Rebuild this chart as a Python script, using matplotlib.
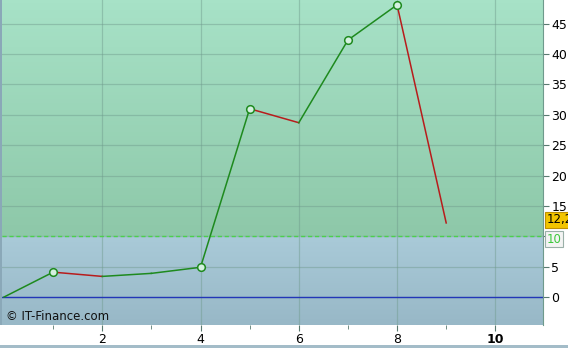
import matplotlib
matplotlib.use("Agg")
import matplotlib.pyplot as plt
import numpy as np
from matplotlib.patches import Rectangle

# data
days = [0, 1, 2, 3, 4, 5, 6, 7, 8, 9]
values = [0.0, 4.1, 3.4, 3.9, 4.9, 31.0, 28.7, 42.3, 48.1, 12.2]
marked = [1, 4, 5, 7, 8]
level = 10
last_label = "12,2"
yticks = [0, 5, 10, 15, 20, 25, 30, 35, 40, 45]
xticks = [2, 4, 6, 8, 10]

fig = plt.figure(figsize=(5.68, 3.48), dpi=100)
fig.patch.set_facecolor("white")
ax = fig.add_axes([2 / 568, 23 / 348, 541 / 568, 325 / 348])

ymin, ymax = -4.6, 48.9
xmin, xmax = -0.04, 10.97
ax.set_xlim(xmin, xmax)
ax.set_ylim(ymin, ymax)

# gradient backgrounds: green above level, blue-grey below
def grad(c_bottom, c_top):
    c0 = np.array(matplotlib.colors.to_rgb(c_bottom))
    c1 = np.array(matplotlib.colors.to_rgb(c_top))
    t = np.linspace(0, 1, 64)[:, None]
    return (c0 + (c1 - c0) * t)[:, None, :]

ax.imshow(grad("#8ec8a9", "#a7e2c7"), extent=[xmin, xmax, level, ymax],
          aspect="auto", origin="lower", zorder=0)
ax.imshow(grad("#98b8c7", "#a9cad8"), extent=[xmin, xmax, ymin, level],
          aspect="auto", origin="lower", zorder=0)

for y in yticks:
    ax.axhline(y, color="#6f9a8c", lw=0.9, alpha=0.45, zorder=1)
for x in xticks:
    ax.axvline(x, color="#6f9a8c", lw=0.9, alpha=0.45, zorder=1)

ax.axhline(0, color="#2236b8", lw=1.0, zorder=2)
ax.axhline(level, color="#4cd04c", lw=1.0, ls=(0, (3, 2)), zorder=2)

# segments coloured by direction
for i in range(len(days) - 1):
    c = "#1e8a1e" if values[i + 1] >= values[i] else "#b81c1c"
    ax.plot(days[i:i + 2], values[i:i + 2], color=c, lw=1.1, zorder=3)
ax.plot([days[i] for i in marked], [values[i] for i in marked], "o",
        ms=5.5, mfc="#d4f0e0", mec="#1e8a1e", mew=1.1, zorder=4)

ax.yaxis.tick_right()
ax.set_yticks(yticks)
# the level value is shown in its own box, so its tick label stays empty
ax.set_yticklabels(["" if v == level else str(v) for v in yticks], fontsize=9)
ax.set_xticks(xticks)
ax.set_xticks([1, 3, 5, 7, 9], minor=True)
ax.set_xticklabels([str(v) for v in xticks], fontsize=9)
ax.get_xticklabels()[-1].set_fontweight("bold")
ax.tick_params(axis="both", which="both", direction="out", length=4,
               color="#5a7a70", pad=2)
ax.tick_params(axis="x", which="minor", length=3)
for s in ["top", "left", "bottom"]:
    ax.spines[s].set_visible(False)
ax.spines["right"].set_color("#6f9a8c")

ax.text(xmax + 0.07, values[-1] + 0.5, last_label, fontsize=8.5, va="center",
        ha="left",
        bbox=dict(boxstyle="square,pad=0.12", fc="#f2c400", ec="#c09000", lw=0.8),
        clip_on=False, zorder=5)
ax.text(xmax + 0.07, level - 0.5, str(level), fontsize=8.5, va="center", ha="left",
        color="#3cc83c",
        bbox=dict(boxstyle="square,pad=0.12", fc="#f4f4f4", ec="#9ab0a8", lw=0.8),
        clip_on=False, zorder=5)

ax.text(0.05, -3.8, "© IT-Finance.com", fontsize=8.5, color="#111111", zorder=5)

# frame strips of the widget
fig.patches.append(Rectangle((0, 0), 1, 3 / 348, transform=fig.transFigure,
                             fc="#a3bcc8", ec="none"))
fig.patches.append(Rectangle((0, 23 / 348), 2 / 568, 325 / 348,
                             transform=fig.transFigure, fc="#8aa8b8", ec="none"))

fig.savefig("out.png", dpi=100)
